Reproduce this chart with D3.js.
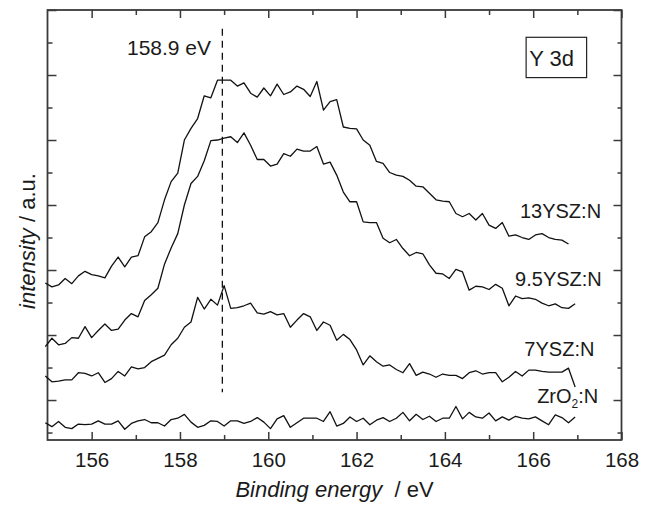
<!DOCTYPE html>
<html>
<head>
<meta charset="utf-8">
<script src="https://cdn.jsdelivr.net/npm/d3@7.9.0/dist/d3.min.js"></script>
<style>
  body { margin: 0; background: #fff; }
  svg { font-family: "Liberation Sans", Arial, Helvetica, sans-serif; }
</style>
</head>
<body>
<div id="chart"></div>
<script>
// Binding energy grid (eV), shared by all four spectra
const energy = [
  154.95, 155.1, 155.25, 155.4, 155.55, 155.7, 155.85, 156, 156.15, 156.3,
  156.45, 156.6, 156.75, 156.9, 157.05, 157.2, 157.35, 157.5, 157.65, 157.8,
  157.95, 158.1, 158.25, 158.4, 158.55, 158.7, 158.85, 159, 159.15, 159.3,
  159.45, 159.6, 159.75, 159.9, 160.05, 160.2, 160.35, 160.5, 160.65, 160.8,
  160.95, 161.1, 161.25, 161.4, 161.55, 161.7, 161.85, 162, 162.15, 162.3,
  162.45, 162.6, 162.75, 162.9, 163.05, 163.2, 163.35, 163.5, 163.65, 163.8,
  163.95, 164.1, 164.25, 164.4, 164.55, 164.7, 164.85, 165, 165.15, 165.3,
  165.45, 165.6, 165.75, 165.9, 166.05, 166.2, 166.35, 166.5, 166.65, 166.8,
  166.95
];

// Intensities (a.u., curves are offset vertically as in the figure)
const ysz13 = [
  18.0, 17.4, 17.7, 18.7, 17.9, 19.1, 19.8, 19.3, 19.1, 18.8,
  20.6, 22.0, 20.5, 22.0, 22.2, 25.1, 25.9, 27.3, 30.8, 33.6,
  34.9, 40.0, 41.8, 43.3, 46.8, 46.5, 49.2, 49.2, 49.2, 48.3,
  48.8, 47.2, 46.6, 48.0, 46.8, 48.6, 47.0, 47.4, 48.3, 47.8,
  46.7, 49.0, 44.6, 45.9, 46.2, 42.0, 41.8, 41.7, 40.0, 39.2,
  36.7, 36.4, 35.0, 34.6, 34.4, 33.8, 32.9, 32.8, 31.8, 30.8,
  30.6, 30.5, 28.7, 28.2, 28.7, 27.7, 28.7, 26.9, 26.4, 27.3,
  25.2, 25.4, 25.0, 24.7, 25.4, 25.6, 25.0, 24.7, 24.6, 24.0
];

const ysz95 = [
  8.2, 9.5, 8.5, 8.7, 9.6, 9.5, 11.3, 9.6, 10.7, 11.7,
  10.7, 10.9, 12.3, 13.3, 12.8, 15.3, 16.2, 17.2, 20.9, 23.4,
  25.6, 30.0, 33.3, 34.4, 36.8, 39.9, 40.0, 40.3, 40.5, 39.6,
  41.1, 39.2, 37.0, 37.0, 36.0, 36.3, 37.9, 37.5, 38.6, 38.3,
  38.3, 39.0, 36.3, 36.6, 34.6, 32.0, 30.5, 30.5, 27.4, 27.3,
  27.3, 24.9, 24.2, 24.7, 23.3, 22.2, 22.7, 22.5, 20.8, 19.5,
  19.4, 18.7, 20.1, 19.7, 16.9, 17.5, 17.4, 17.0, 17.8, 17.2,
  14.5, 16.0, 15.6, 15.7, 15.5, 14.9, 14.5, 14.8, 14.2, 14.1,
  14.8
];

const ysz7 = [
  3.7, 2.8, 2.9, 3.1, 3.1, 4.2, 4.1, 3.7, 4.2, 2.7,
  3.3, 4.4, 3.7, 5.1, 4.8, 5.0, 5.9, 6.4, 6.9, 8.5,
  9.5, 11.2, 12.0, 15.8, 14.0, 15.5, 14.6, 17.6, 14.1, 14.2,
  14.5, 14.9, 13.4, 13.2, 13.6, 13.1, 13.3, 11.2, 12.3, 13.3,
  12.8, 10.7, 12.0, 11.5, 9.2, 10.1, 9.3, 7.7, 5.4, 6.8,
  5.9, 5.2, 5.4, 4.7, 4.2, 5.6, 3.8, 4.3, 4.0, 3.5,
  4.0, 3.8, 3.8, 3.3, 4.2, 4.5, 4.0, 4.2, 4.2, 2.8,
  3.5, 4.4, 3.7, 4.6, 4.6, 4.4, 4.3, 4.3, 4.3, 4.9,
  2.0
];

const zro2 = [
  -3.5, -4.1, -3.3, -4.2, -4.4, -3.7, -3.8, -3.7, -3.2, -3.7,
  -3.7, -3.2, -4.5, -3.6, -3.2, -3.0, -3.5, -3.5, -4.0, -3.0,
  -2.8, -2.2, -3.4, -4.2, -3.9, -3.2, -3.3, -4.0, -3.2, -3.2,
  -3.6, -3.3, -2.7, -3.4, -4.4, -2.9, -2.4, -4.2, -3.5, -2.8,
  -2.8, -2.8, -3.3, -1.8, -4.0, -3.6, -2.6, -3.3, -2.8, -3.8,
  -3.1, -2.7, -3.3, -2.8, -1.9, -3.2, -2.2, -3.0, -2.5, -3.3,
  -2.8, -2.8, -1.0, -2.9, -1.9, -2.6, -2.8, -2.0, -3.2, -2.6,
  -3.1, -2.5, -2.8, -2.9, -2.6, -3.2, -3.8, -2.3, -2.7, -3.5,
  -2.6
];

const series = [ysz13, ysz95, ysz7, zro2];

// Axis ticks
const xMajor = [156, 158, 160, 162, 164, 166, 168];
const xMinor = [157, 159, 161, 163, 165, 167];
const yMajor = [0, 10, 20, 30, 40, 50, 60];
const yMinor = [-5, 5, 15, 25, 35, 45, 55];

// Annotations (positions in data units)
const curveLabels = [
  { name: '13YSZ:N', e: 165.70, v: 28.0 },
  { name: '9.5YSZ:N', e: 165.59, v: 17.5 },
  { name: '7YSZ:N', e: 165.80, v: 6.8 }
];
const peakEnergy = 158.96;
const peakLabel = '158.9 eV';

const width = 649;
const height = 506;
const plot = { left: 47.5, right: 621.5, top: 10, bottom: 440 };

const x = d3.scaleLinear().domain([155, 168]).range([plot.left, plot.right]);
const y = d3.scaleLinear().domain([-6.15, 60]).range([plot.bottom, plot.top]);

const svg = d3.select('#chart')
  .append('svg')
  .attr('width', width)
  .attr('height', height);

const axisColor = '#3a3a3a';

// Ticks (inward, on all four sides)
function styleAxis(g) {
  g.select('.domain').remove();
  g.selectAll('.tick line').attr('stroke', axisColor).attr('stroke-width', 1.5);
  g.selectAll('.tick text')
    .attr('fill', '#1a1a1a')
    .style('font-size', '20.5px')
    .style('font-family', '"Liberation Sans", Arial, Helvetica, sans-serif');
}

svg.append('g')
  .attr('transform', `translate(0,${plot.bottom})`)
  .call(d3.axisBottom(x).tickValues(xMajor).tickSize(-8).tickPadding(12.5).tickFormat(d3.format('d')))
  .call(styleAxis);
svg.append('g')
  .attr('transform', `translate(0,${plot.bottom})`)
  .call(d3.axisBottom(x).tickValues(xMinor).tickSize(-5).tickFormat(''))
  .call(styleAxis);
svg.append('g')
  .attr('transform', `translate(0,${plot.top})`)
  .call(d3.axisTop(x).tickValues(xMajor).tickSize(-8).tickFormat(''))
  .call(styleAxis);
svg.append('g')
  .attr('transform', `translate(0,${plot.top})`)
  .call(d3.axisTop(x).tickValues(xMinor).tickSize(-5).tickFormat(''))
  .call(styleAxis);

svg.append('g')
  .attr('transform', `translate(${plot.left},0)`)
  .call(d3.axisLeft(y).tickValues(yMajor).tickSize(-9).tickFormat(''))
  .call(styleAxis);
svg.append('g')
  .attr('transform', `translate(${plot.left},0)`)
  .call(d3.axisLeft(y).tickValues(yMinor).tickSize(-5).tickFormat(''))
  .call(styleAxis);
svg.append('g')
  .attr('transform', `translate(${plot.right},0)`)
  .call(d3.axisRight(y).tickValues(yMajor).tickSize(-8).tickFormat(''))
  .call(styleAxis);
svg.append('g')
  .attr('transform', `translate(${plot.right},0)`)
  .call(d3.axisRight(y).tickValues(yMinor).tickSize(-4).tickFormat(''))
  .call(styleAxis);

// Frame
svg.append('rect')
  .attr('x', plot.left)
  .attr('y', plot.top)
  .attr('width', plot.right - plot.left)
  .attr('height', plot.bottom - plot.top)
  .attr('fill', 'none')
  .attr('stroke', axisColor)
  .attr('stroke-width', 1.8);

// Peak position marker
svg.append('line')
  .attr('x1', x(peakEnergy)).attr('x2', x(peakEnergy))
  .attr('y1', y(57.1)).attr('y2', y(1.2))
  .attr('stroke', '#111')
  .attr('stroke-width', 1.3)
  .attr('stroke-dasharray', '7,5');

// Spectra
const line = d3.line()
  .x((d, i) => x(energy[i]))
  .y((d) => y(d));

svg.append('g')
  .selectAll('path')
  .data(series)
  .join('path')
  .attr('d', (d) => line(d))
  .attr('fill', 'none')
  .attr('stroke', '#111')
  .attr('stroke-width', 1.3)
  .attr('stroke-linejoin', 'round');

// Text
const txt = svg.append('g').attr('fill', '#1a1a1a').style('font-size', '20px');

txt.selectAll('text.curve')
  .data(curveLabels)
  .join('text')
  .attr('class', 'curve')
  .attr('x', (d) => x(d.e))
  .attr('y', (d) => y(d.v))
  .text((d) => d.name);

const zr = txt.append('text')
  .attr('x', x(166.09))
  .attr('y', y(-0.4));
zr.append('tspan').text('ZrO');
zr.append('tspan').attr('dy', 5).style('font-size', '12px').text('2');
zr.append('tspan').attr('dy', -5).text(':N');

txt.append('text')
  .attr('x', x(156.80))
  .attr('y', y(53.1))
  .style('font-size', '21px')
  .text(peakLabel);

// "Y 3d" box
svg.append('rect')
  .attr('x', x(165.84))
  .attr('y', y(55.8))
  .attr('width', x(167.21) - x(165.84))
  .attr('height', y(49.6) - y(55.8))
  .attr('fill', 'none')
  .attr('stroke', '#222')
  .attr('stroke-width', 1.2);
txt.append('text')
  .attr('x', x(165.91))
  .attr('y', y(51.4))
  .style('font-size', '22px')
  .text('Y 3d');

// Axis titles
const xt = txt.append('text')
  .attr('x', (plot.left + plot.right) / 2)
  .attr('y', 497)
  .attr('text-anchor', 'middle')
  .style('font-size', '22px')
  .style('white-space', 'pre');
xt.append('tspan').style('font-style', 'italic').text('Binding energy');
xt.append('tspan').text('  / eV');

const yt = txt.append('text')
  .attr('transform', 'translate(35,241) rotate(-90)')
  .attr('text-anchor', 'middle')
  .style('font-size', '22px')
  .style('white-space', 'pre');
yt.append('tspan').style('font-style', 'italic').text('intensity');
yt.append('tspan').text(' / a.u.');
</script>
</body>
</html>
